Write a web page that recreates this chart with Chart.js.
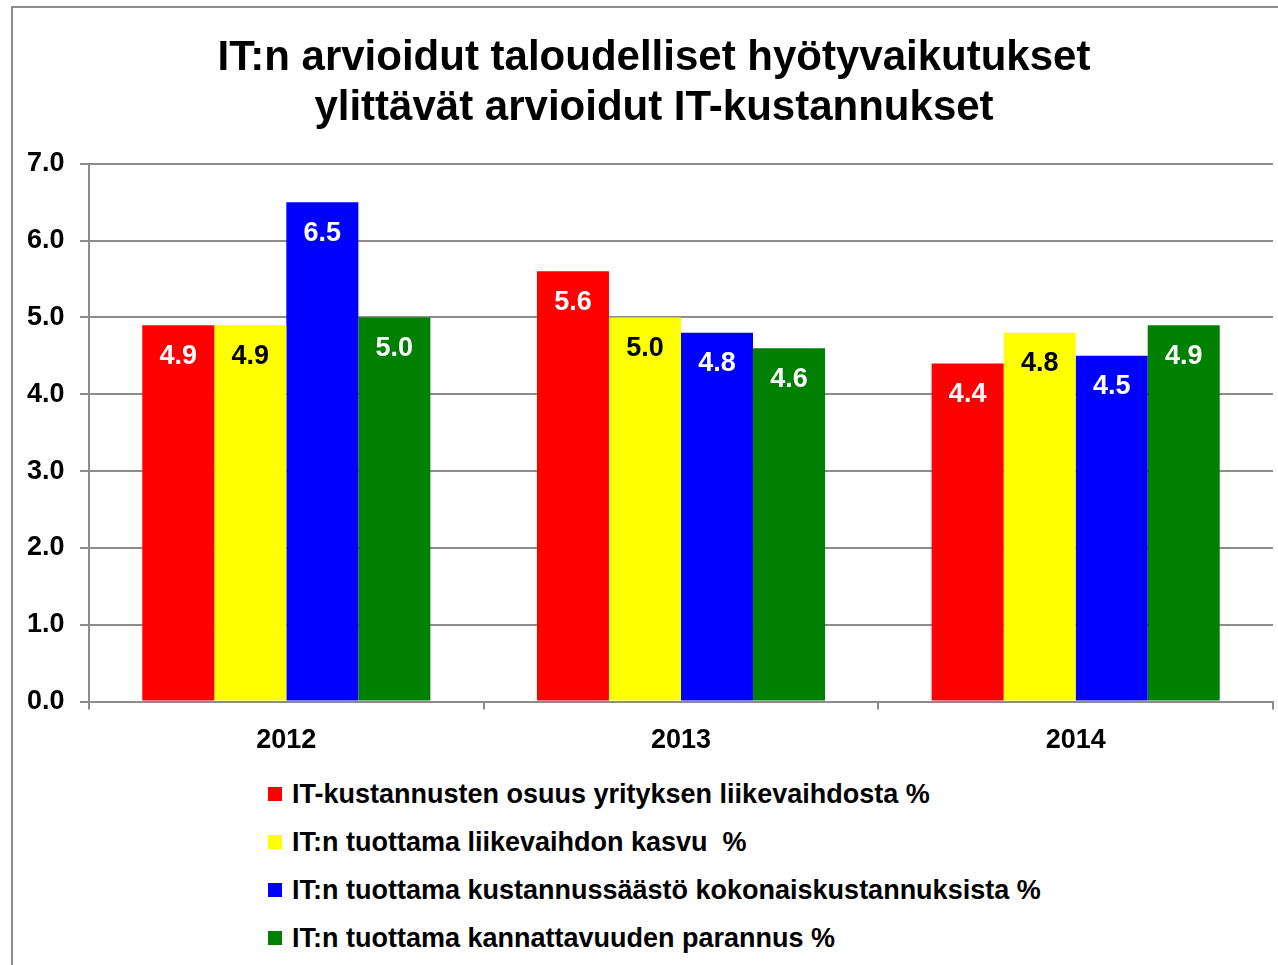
<!DOCTYPE html>
<html>
<head>
    <meta charset="utf-8" />
    <script src="https://cdn.jsdelivr.net/npm/chart.js"></script>
    <style>
        html, body { margin: 0; padding: 0; background: white; overflow: hidden; }
        .frame {
            position: absolute;
            left: 11px; top: 6px;
            width: 1400px; height: 1100px;
            border-left: 2px solid #8c8c8c;
            border-top: 2px solid #8c8c8c;
        }
        .chart-container {
            position: absolute;
            left: 0; top: 0;
            width: 1278px; height: 772px;
        }
        #legend {
            position: absolute;
            left: 268px; top: 772px;
            font-family: "Liberation Sans", Arial, sans-serif;
            font-weight: bold;
            font-size: 27px;
            color: black;
        }
        #legend div { height: 48px; line-height: 44px; white-space: pre; }
        #legend span.box {
            display: inline-block;
            width: 14px; height: 14px;
            margin-right: 10px;
            vertical-align: 2px;
        }
    </style>
</head>
<body>
    <div class="frame"></div>
    <div class="chart-container">
        <canvas id="benefitChart"></canvas>
    </div>
    <div id="legend"></div>

    <script>
        const years = ['2012', '2013', '2014'];
        const seriesNames = [
            'IT-kustannusten osuus yrityksen liikevaihdosta %',
            'IT:n tuottama liikevaihdon kasvu  %',
            'IT:n tuottama kustannussäästö kokonaiskustannuksista %',
            'IT:n tuottama kannattavuuden parannus %'
        ];
        const itCostShare = [4.9, 5.6, 4.4];
        const revenueGrowth = [4.9, 5.0, 4.8];
        const costSaving = [6.5, 4.8, 4.5];
        const profitability = [5.0, 4.6, 4.9];
        const yTicks = [0, 1, 2, 3, 4, 5, 6, 7];

        const colors = ['#ff0000', '#ffff00', '#0000ff', '#008000'];
        const labelColors = ['white', 'black', 'white', 'white'];
        const seriesValues = [itCostShare, revenueGrowth, costSaving, profitability];

        // arvot palkkien sisään
        const valueLabels = {
            id: 'valueLabels',
            afterDatasetsDraw(chart) {
                const ctx = chart.ctx;
                ctx.save();
                ctx.font = 'bold 27px "Liberation Sans", Arial, sans-serif';
                ctx.textAlign = 'center';
                ctx.textBaseline = 'middle';
                chart.data.datasets.forEach((ds, i) => {
                    chart.getDatasetMeta(i).data.forEach((bar, j) => {
                        ctx.fillStyle = labelColors[i];
                        ctx.fillText(ds.data[j].toFixed(1), bar.x, bar.y + 31);
                    });
                });
                ctx.restore();
            }
        };

        new Chart(document.getElementById('benefitChart'), {
            type: 'bar',
            data: {
                labels: years,
                datasets: seriesNames.map((name, i) => ({
                    label: name,
                    data: seriesValues[i],
                    backgroundColor: colors[i],
                    borderWidth: 0,
                    categoryPercentage: 0.73,
                    barPercentage: 1.0
                }))
            },
            options: {
                responsive: true,
                maintainAspectRatio: false,
                animation: false,
                layout: { padding: { left: 35, right: 5, top: 33, bottom: 0 } },
                plugins: {
                    legend: { display: false },
                    tooltip: { enabled: false },
                    title: {
                        display: true,
                        text: ['IT:n arvioidut taloudelliset hyötyvaikutukset', 'ylittävät arvioidut IT-kustannukset'],
                        color: 'black',
                        font: { family: '"Liberation Sans", Arial, sans-serif', size: 42, weight: 'bold', lineHeight: 1.2 },
                        padding: { top: 0, bottom: 30 }
                    }
                },
                scales: {
                    x: {
                        grid: { drawOnChartArea: false, drawTicks: true, tickLength: 8, color: '#8c8c8c', lineWidth: 2, offset: true },
                        border: { color: '#8c8c8c', width: 2 },
                        ticks: {
                            color: 'black',
                            padding: 15,
                            font: { family: '"Liberation Sans", Arial, sans-serif', size: 27, weight: 'bold' }
                        }
                    },
                    y: {
                        min: 0,
                        max: 7,
                        afterFit(scale) { scale.width = 54; },
                        afterBuildTicks(scale) { scale.ticks = yTicks.map(v => ({ value: v })); },
                        grid: { color: '#8c8c8c', lineWidth: 2, tickLength: 9 },
                        border: { color: '#8c8c8c', width: 2 },
                        ticks: {
                            color: 'black',
                            mirror: true,
                            padding: -62,
                            callback: v => v.toFixed(1),
                            font: { family: '"Liberation Sans", Arial, sans-serif', size: 27, weight: 'bold' }
                        }
                    }
                }
            },
            plugins: [valueLabels]
        });

        const legend = document.getElementById('legend');
        seriesNames.forEach((name, i) => {
            const row = document.createElement('div');
            const box = document.createElement('span');
            box.className = 'box';
            box.style.background = colors[i];
            row.appendChild(box);
            row.appendChild(document.createTextNode(name));
            legend.appendChild(row);
        });
    </script>
</body>
</html>
